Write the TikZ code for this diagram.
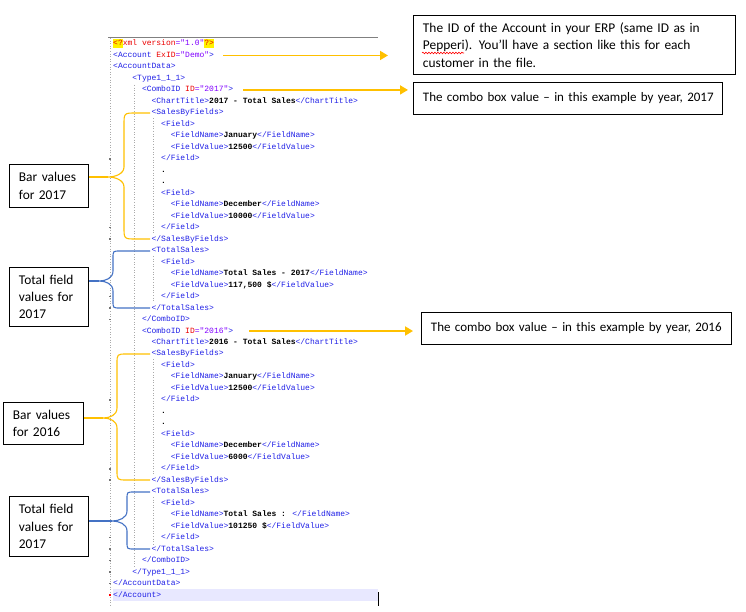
\documentclass[tikz,border=0pt]{standalone}
\usepackage{fontspec}
\setmainfont{Carlito}
\newfontfamily\xmlfont{Liberation Mono}
\usetikzlibrary{arrows.meta,decorations.pathmorphing}
\definecolor{xtag}{RGB}{30,30,230}
\definecolor{xattr}{RGB}{235,0,0}
\definecolor{xval}{RGB}{128,0,255}
\definecolor{gold}{RGB}{255,192,0}
\definecolor{oblue}{RGB}{68,114,196}
\definecolor{curline}{RGB}{232,232,255}
\definecolor{guide}{RGB}{170,170,170}
\newcommand\xtg[1]{\textcolor{xtag}{#1}}
\newcommand\xat[1]{\textcolor{xattr}{#1}}
\newcommand\xvl[1]{\textcolor{xval}{#1}}
\newcommand\xtx[1]{\textcolor{black}{\bfseries #1}}
\newcommand\xhl[1]{{\setlength{\fboxsep}{0pt}\colorbox{yellow}{\rule[-2.5pt]{0pt}{9.5pt}#1}}}
\newcommand\xmlrow[4]{\node[xln] (#1) at ({113+9.6*#2},{44+11.48*#3}) {#4};}
% #1 style, #2 xr, #3 xv, #4 xtip, #5 yt, #6 ym, #7 yb, #8 r
\newcommand\xbrace[8]{\draw[#1] (#2,#5) -- ({#3+#8},#5) .. controls (#3,#5) .. (#3,{#5+#8}) -- (#3,{#6-10}) .. controls (#3,{#6-3}) and ({#4+7},#6) .. (#4,#6) .. controls ({#4+7},#6) and (#3,{#6+3}) .. (#3,{#6+10}) -- (#3,{#7-#8}) .. controls (#3,#7) .. ({#3+#8},#7) -- (#2,#7);}
\tikzset{
  xln/.style={anchor=west, inner sep=0pt, font=\xmlfont\fontsize{8}{10}\selectfont, text height=6pt, text depth=2pt},
  cbox/.style={draw=black, line width=0.9pt, anchor=north west, inner xsep=9.5pt, inner ysep=0pt, align=left, font=\fontsize{13.4}{17.3}\selectfont},
  garrow/.style={draw=gold, line width=1.8pt, -{Triangle[length=8pt,width=9pt]}},
  gbrace/.style={draw=gold, line width=1.1pt},
  bbrace/.style={draw=oblue, line width=1.1pt},
  iguide/.style={draw=guide, line width=0.6pt, dotted},
  fmark/.style={fill=black!55, draw=none}
}
\begin{document}
\begin{tikzpicture}[x=1pt,y=-1pt]
\useasboundingbox (0,0) rectangle (746,612);
% editor chrome
\fill[curline] (113,589) rectangle (378,601);
\draw[black!50, line width=0.8pt] (108,37) -- (378,37);
\draw[guide, line width=0.6pt, dotted] (110,38) -- (110,606);
\foreach \r in {10,16,17,22,23,24,31,37,38,43,44,45,46,47}
  \fill[fmark] (108.8,{44+11.48*\r-0.8}) rectangle (111.2,{44+11.48*\r+0.8});
\fill[red] (108.8,{44+11.48*48-0.8}) rectangle (111.2,{44+11.48*48+0.8});
\draw[iguide] (134,85) -- (134,567);
\draw[iguide] (153,118) -- (153,233);
\draw[iguide] (153,256) -- (153,302);
\draw[iguide] (153,359) -- (153,475);
\draw[iguide] (153,497) -- (153,544);
\draw[black, line width=1pt] (378,592) -- (378,606);
% XML lines
\xmlrow{l0}{0}{0}{\xhl{\xat{<?}}\xat{xml version}\xvl{="1.0"}\xhl{\xat{?>}}}
\xmlrow{l1}{0}{1}{\xtg{<Account }\xat{ExID}\xvl{="Demo"}\xtg{>}}
\xmlrow{l2}{0}{2}{\xtg{<AccountData>}}
\xmlrow{l3}{2}{3}{\xtg{<Type1\_1\_1>}}
\xmlrow{l4}{3}{4}{\xtg{<ComboID }\xat{ID}\xvl{="2017"}\xtg{>}}
\xmlrow{l5}{4}{5}{\xtg{<ChartTitle>}\xtx{2017 - Total Sales}\xtg{</ChartTitle>}}
\xmlrow{l6}{4}{6}{\xtg{<SalesByFields>}}
\xmlrow{l7}{5}{7}{\xtg{<Field>}}
\xmlrow{l8}{6}{8}{\xtg{<FieldName>}\xtx{January}\xtg{</FieldName>}}
\xmlrow{l9}{6}{9}{\xtg{<FieldValue>}\xtx{12500}\xtg{</FieldValue>}}
\xmlrow{l10}{5}{10}{\xtg{</Field>}}
\xmlrow{l11}{5}{11}{\xtx{.}}
\xmlrow{l12}{5}{12}{\xtx{.}}
\xmlrow{l13}{5}{13}{\xtg{<Field>}}
\xmlrow{l14}{6}{14}{\xtg{<FieldName>}\xtx{December}\xtg{</FieldName>}}
\xmlrow{l15}{6}{15}{\xtg{<FieldValue>}\xtx{10000}\xtg{</FieldValue>}}
\xmlrow{l16}{5}{16}{\xtg{</Field>}}
\xmlrow{l17}{4}{17}{\xtg{</SalesByFields>}}
\xmlrow{l18}{4}{18}{\xtg{<TotalSales>}}
\xmlrow{l19}{5}{19}{\xtg{<Field>}}
\xmlrow{l20}{6}{20}{\xtg{<FieldName>}\xtx{Total Sales - 2017}\xtg{</FieldName>}}
\xmlrow{l21}{6}{21}{\xtg{<FieldValue>}\xtx{117,500 \$}\xtg{</FieldValue>}}
\xmlrow{l22}{5}{22}{\xtg{</Field>}}
\xmlrow{l23}{4}{23}{\xtg{</TotalSales>}}
\xmlrow{l24}{3}{24}{\xtg{</ComboID>}}
\xmlrow{l25}{3}{25}{\xtg{<ComboID }\xat{ID}\xvl{="2016"}\xtg{>}}
\xmlrow{l26}{4}{26}{\xtg{<ChartTitle>}\xtx{2016 - Total Sales}\xtg{</ChartTitle>}}
\xmlrow{l27}{4}{27}{\xtg{<SalesByFields>}}
\xmlrow{l28}{5}{28}{\xtg{<Field>}}
\xmlrow{l29}{6}{29}{\xtg{<FieldName>}\xtx{January}\xtg{</FieldName>}}
\xmlrow{l30}{6}{30}{\xtg{<FieldValue>}\xtx{12500}\xtg{</FieldValue>}}
\xmlrow{l31}{5}{31}{\xtg{</Field>}}
\xmlrow{l32}{5}{32}{\xtx{.}}
\xmlrow{l33}{5}{33}{\xtx{.}}
\xmlrow{l34}{5}{34}{\xtg{<Field>}}
\xmlrow{l35}{6}{35}{\xtg{<FieldName>}\xtx{December}\xtg{</FieldName>}}
\xmlrow{l36}{6}{36}{\xtg{<FieldValue>}\xtx{6000}\xtg{</FieldValue>}}
\xmlrow{l37}{5}{37}{\xtg{</Field>}}
\xmlrow{l38}{4}{38}{\xtg{</SalesByFields>}}
\xmlrow{l39}{4}{39}{\xtg{<TotalSales>}}
\xmlrow{l40}{5}{40}{\xtg{<Field>}}
\xmlrow{l41}{6}{41}{\xtg{<FieldName>}\xtx{Total Sales : }\xtg{</FieldName>}}
\xmlrow{l42}{6}{42}{\xtg{<FieldValue>}\xtx{101250 \$}\xtg{</FieldValue>}}
\xmlrow{l43}{5}{43}{\xtg{</Field>}}
\xmlrow{l44}{4}{44}{\xtg{</TotalSales>}}
\xmlrow{l45}{3}{45}{\xtg{</ComboID>}}
\xmlrow{l46}{2}{46}{\xtg{</Type1\_1\_1>}}
\xmlrow{l47}{0}{47}{\xtg{</AccountData>}}
\xmlrow{l48}{0}{48}{\xtg{</Account>}}
% callout boxes right
\node[cbox, text width=303pt, minimum height=59pt] (b1) at (413,15)
  {The ID of the Account in your ERP (same ID as in\\Pepperi). You’ll have a section like this for each\\customer in the file.};
\node[cbox, text width=290pt, minimum height=32pt, font=\fontsize{13}{17.3}\selectfont] (b2) at (413,82)
  {\mbox{The combo box value \textendash{} in this example by year, 2017}};
\node[cbox, text width=291pt, minimum height=32pt, font=\fontsize{13}{17.3}\selectfont] (b3) at (421,312)
  {\mbox{The combo box value \textendash{} in this example by year, 2016}};
\draw[red, line width=0.6pt, decorate, decoration={snake, amplitude=0.8pt, segment length=3pt}] (422,53) -- (464,53);
% callout boxes left
\node[cbox, text width=60pt, minimum height=43pt] (c1) at (9,164) {Bar values\\for 2017};
\node[cbox, text width=60pt, minimum height=59pt] (c2) at (9,267) {Total field\\values for\\2017};
\node[cbox, text width=61pt, minimum height=42pt] (c3) at (3,402) {Bar values\\for 2016};
\node[cbox, text width=60pt, minimum height=60pt] (c4) at (9,496) {Total field\\values for\\2017};
% arrows
\draw[garrow] ([xshift=9pt]l1.east) -- ([xshift=-25pt]b1.west |- l1.east);
\draw[garrow] ([xshift=10pt]l4.east) -- ([xshift=-5pt]b2.west |- l4.east);
\draw[garrow] ([xshift=16pt]l25.east) -- ([xshift=-8pt]b3.west |- l25.east);
% braces
\coordinate (t1) at (108,177);
\coordinate (t2) at (99,281);
\coordinate (t3) at (103,418);
\coordinate (t4) at (112,521);
\xbrace{gbrace}{150}{124}{108}{113}{177}{239}{12}
\xbrace{bbrace}{150}{113}{99}{251}{281}{308}{7}
\xbrace{gbrace}{150}{117}{103}{354}{418}{480}{10}
\xbrace{bbrace}{150}{127}{112}{492}{521}{549}{7}
\draw[gbrace] (t1 -| c1.east) -- (t1);
\draw[bbrace] (t2 -| c2.east) -- (t2);
\draw[gbrace] (t3 -| c3.east) -- (t3);
\draw[bbrace] (t4 -| c4.east) -- (t4);
\end{tikzpicture}
\end{document}
